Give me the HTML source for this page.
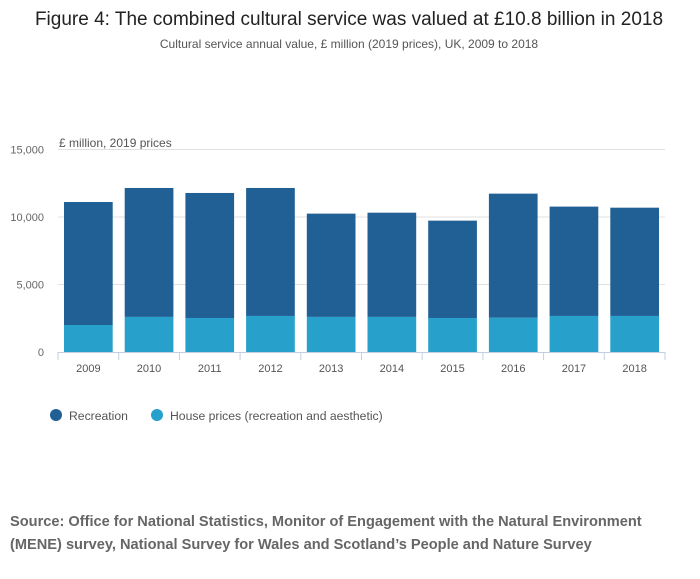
<!DOCTYPE html>
<html><head><meta charset="utf-8"><style>
body{margin:0;background:#fff;font-family:"Liberation Sans",sans-serif;}
svg text{font-family:"Liberation Sans",sans-serif;}
</style></head><body>
<svg width="700" height="574" viewBox="0 0 700 574">
<text x="349" y="25" text-anchor="middle" font-size="19" fill="#222">Figure 4: The combined cultural service was valued at £10.8 billion in 2018</text>
<text x="349" y="48" text-anchor="middle" font-size="12" fill="#555">Cultural service annual value, £ million (2019 prices), UK, 2009 to 2018</text>
<text x="59" y="147" font-size="12" fill="#555">£ million, 2019 prices</text>
<g id="grid"></g><g id="bars"></g><g id="xaxis"></g>
<g>
<circle cx="56" cy="415" r="6" fill="#206095"/>
<text x="69" y="420" font-size="12.2" fill="#555">Recreation</text>
<circle cx="157" cy="415" r="6" fill="#27a0cc"/>
<text x="170" y="420" font-size="12.2" fill="#555">House prices (recreation and aesthetic)</text>
</g>
<text x="10" y="526" font-size="14.6" font-weight="bold" fill="#666">Source: Office for National Statistics, Monitor of Engagement with the Natural Environment</text>
<text x="10" y="549" font-size="14.6" font-weight="bold" fill="#666">(MENE) survey, National Survey for Wales and Scotland’s People and Nature Survey</text>
</svg>
<script>
const years=["2009","2010","2011","2012","2013","2014","2015","2016","2017","2018"];
const housePrices=[2000,2600,2520,2670,2600,2600,2520,2540,2670,2670];
const recreation=[9110,9550,9260,9480,7650,7720,7210,9190,8100,8020];
const yTicks=[0,5000,10000,15000];
const yTickLabels=["0","5,000","10,000","15,000"];
const NS="http://www.w3.org/2000/svg";
const x0=58,x1=665,yBase=352,yTop=149.5,yMax=15000;
const band=(x1-x0)/years.length;
const y=v=>yBase-(v/yMax)*(yBase-yTop);
function mk(t,a,p){const e=document.createElementNS(NS,t);for(const k in a)e.setAttribute(k,a[k]);p.appendChild(e);return e;}
const grid=document.getElementById('grid'),bars=document.getElementById('bars'),xa=document.getElementById('xaxis');
yTicks.forEach((v,i)=>{
 if(v>0){const l=mk('line',{x1:x0,x2:x1,y1:y(v),y2:y(v),stroke:'#e0e0e0'},grid);
 
 }
 const t=mk('text',{x:44,y:y(v)+4,'text-anchor':'end','font-size':11,fill:'#666'},grid);
 t.textContent=yTickLabels[i];
 
 
});
years.forEach((yr,i)=>{
 const bx=x0+i*band+6,bw=band-12;
 const h=mk('rect',{x:bx,y:y(housePrices[i]),width:bw,height:yBase-y(housePrices[i]),fill:'#27a0cc'},bars);
 
 
 const tot=housePrices[i]+recreation[i];
 const r=mk('rect',{x:bx,y:y(tot),width:bw,height:y(housePrices[i])-y(tot),fill:'#206095'},bars);
 
 
 const t=mk('text',{x:x0+(i+0.5)*band,y:372,'text-anchor':'middle','font-size':11,fill:'#555'},xa);
 t.textContent=yr;
 
 
});
for(let i=0;i<=years.length;i++){
 const tk=mk('line',{x1:x0+i*band,x2:x0+i*band,y1:yBase,y2:yBase+8,stroke:'#c3cfe0'},xa);
 
 
}
const ax=mk('line',{x1:x0,x2:x1,y1:yBase+0.5,y2:yBase+0.5,stroke:'#c3cfe0'},xa);


</script>
</body></html>
